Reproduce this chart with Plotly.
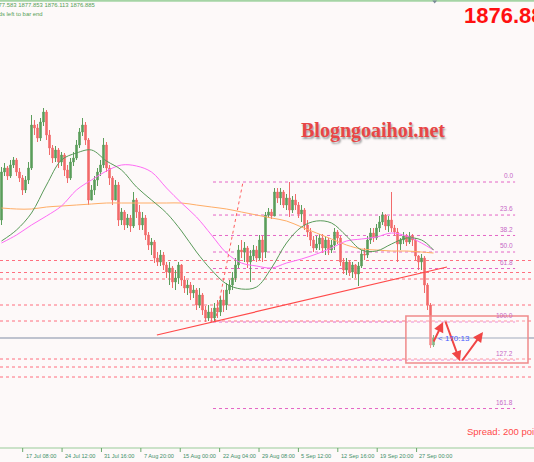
import plotly.graph_objects as go

# ---------------- data (price units) ----------------
first_open = 1995
closes = [2043, 2047, 2039, 2050, 2055, 2043, 2037, 2025, 2035, 2047,
          2090, 2087, 2077, 2093, 2103, 2080, 2067, 2057, 2065, 2053,
          2060, 2045, 2037, 2053, 2057, 2070, 2083, 2090, 2075, 2015,
          2025, 2035, 2043, 2050, 2070, 2047, 2037, 2015, 2030, 1995,
          2003, 1990, 1997, 1989, 2015, 2003, 1990, 1997, 1980, 1970,
          1973, 1957, 1953, 1960, 1950, 1943, 1947, 1933, 1937, 1950,
          1935, 1927, 1930, 1922, 1925, 1910, 1920, 1905, 1897, 1903,
          1897, 1907, 1903, 1915, 1910, 1925, 1930, 1937, 1950, 1965,
          1963, 1967, 1953, 1959, 1965, 1957, 1975, 1963, 2000, 2003,
          1999, 2023, 2017, 2023, 2010, 2017, 2005, 2015, 2010, 2001,
          2005, 1990, 1983, 1975, 1967, 1971, 1977, 1967, 1975, 1965,
          1970, 1983, 1977, 1953, 1945, 1953, 1943, 1950, 1941, 1949,
          1961, 1960, 1975, 1982, 1977, 1987, 1993, 2000, 1989, 1995,
          1987, 1983, 1971, 1975, 1979, 1973, 1979, 1975, 1959, 1953,
          1957, 1930, 1910, 1870, 1877]
highs = [2048, 2052, 2049, 2055, 2058, 2057, 2047, 2040, 2039, 2053,
         2100, 2095, 2091, 2097, 2107, 2105, 2085, 2070, 2069, 2067,
         2063, 2062, 2050, 2057, 2063, 2075, 2087, 2097, 2093, 2077,
         2030, 2039, 2047, 2055, 2077, 2073, 2050, 2039, 2035, 2033,
         2007, 2005, 2001, 2000, 2023, 2017, 2010, 2003, 2000, 1983,
         1977, 1975, 1963, 1965, 1963, 1953, 1953, 1949, 1945, 1953,
         1951, 1939, 1935, 1933, 1930, 1927, 1927, 1922, 1909, 1910,
         1907, 1912, 1915, 1919, 1925, 1932, 1935, 1943, 1957, 1970,
         1975, 1973, 1969, 1965, 1970, 1969, 1980, 1979, 2003, 2007,
         2006, 2027, 2027, 2027, 2025, 2021, 2033, 2019, 2021, 2013,
         2010, 2007, 1995, 1987, 1979, 1979, 1981, 1981, 1979, 1977,
         1975, 1987, 1985, 1979, 1957, 1957, 1955, 1953, 1951, 1953,
         1965, 1967, 1979, 1987, 1987, 1991, 1999, 2003, 2001, 1999,
         2023, 1990, 1987, 1977, 1983, 1981, 1983, 1981, 1977, 1960,
         1961, 1959, 1932, 1912, 1880]
lows = [1990, 2039, 2035, 2037, 2047, 2039, 2033, 2020, 2022, 2031,
        2045, 2080, 2073, 2074, 2089, 2075, 2060, 2052, 2053, 2047,
        2049, 2039, 2032, 2035, 2049, 2055, 2067, 2079, 2070, 2010,
        2015, 2020, 2029, 2039, 2047, 2043, 2030, 2010, 2015, 1989,
        1990, 1985, 1987, 1983, 1987, 1997, 1985, 1985, 1975, 1965,
        1960, 1952, 1949, 1949, 1945, 1937, 1930, 1927, 1925, 1931,
        1929, 1922, 1920, 1915, 1917, 1905, 1907, 1900, 1893, 1894,
        1893, 1894, 1897, 1899, 1903, 1905, 1921, 1925, 1933, 1947,
        1957, 1953, 1947, 1933, 1955, 1953, 1955, 1953, 1957, 1997,
        1996, 1999, 2012, 2010, 2007, 2005, 1998, 2002, 2005, 1997,
        1993, 1985, 1978, 1969, 1963, 1965, 1965, 1962, 1960, 1960,
        1962, 1965, 1971, 1949, 1941, 1940, 1939, 1937, 1937, 1929,
        1947, 1955, 1957, 1971, 1973, 1975, 1983, 1990, 1985, 1983,
        1983, 1979, 1953, 1965, 1971, 1969, 1971, 1969, 1955, 1945,
        1945, 1922, 1905, 1867, 1868]
opens = [first_open] + closes[:-1]
bars = list(range(len(closes)))

# moving averages every 5 bars
ma_bars = list(range(0, 145, 5)) + [144]
ma_green = [1974, 1985, 2002, 2030, 2055, 2062, 2065, 2054, 2045, 2028,
            2015, 2002, 1984, 1963, 1945, 1931, 1926, 1928, 1947, 1972,
            1988, 1994, 1992, 1979, 1965, 1964, 1971, 1977, 1975, 1965]
ma_magenta = [1972, 1980, 1990, 1999, 2009, 2025, 2035, 2044, 2050, 2049,
              2043, 2027, 2012, 1998, 1980, 1962, 1952, 1949, 1947, 1952,
              1956, 1961, 1967, 1974, 1976, 1978, 1982, 1979, 1972, 1965]
ma_orange = [2007, 2006, 2006, 2008, 2009, 2010, 2011, 2012, 2012, 2012,
             2012, 2012, 2012, 2010, 2008, 2006, 2003, 2000, 1997, 1994,
             1988, 1982, 1976, 1970, 1966, 1965, 1964, 1964, 1963, 1962]

hlines = [1954.5, 1942.5, 1936, 1910, 1894, 1856, 1848, 1838]
current_price = 1877
fib_high = 2033
fib_low = 1893
fib_levels = [0.0, 23.6, 38.2, 50.0, 61.8, 100.0, 127.2, 161.8]
fib_labels = ["0.0", "23.6", "38.2", "50.0", "61.8", "100.0", "127.2", "161.8"]
date_labels = ["10 Jul 04:00", "17 Jul 08:00", "24 Jul 12:00", "31 Jul 16:00",
               "7 Aug 20:00", "15 Aug 00:00", "22 Aug 04:00", "29 Aug 08:00",
               "5 Sep 12:00", "12 Sep 16:00", "19 Sep 20:00", "27 Sep 00:00"]
ohlc_text = "1877.583 1877.853 1876.113 1876.885"
big_price = "1876.885"

# ---------------- styling ----------------
BG = "#fdf9f9"
UP = "#5c9e5c"
DN = "#f26b6b"
PRICE_TOP, PRICE_BOT = 2215, 1753
X0, X1 = -0.5, 177.5
SANS = "Liberation Sans, Arial"

fig = go.Figure()
fig.add_trace(go.Candlestick(
    x=bars, open=opens, high=highs, low=lows, close=closes,
    increasing=dict(line=dict(color=UP, width=1), fillcolor=UP),
    decreasing=dict(line=dict(color=DN, width=1), fillcolor=DN),
    whiskerwidth=0, hoverinfo="skip", showlegend=False))

for vals, col in [(ma_orange, "#ffad66"), (ma_magenta, "#ff6cf5"), (ma_green, "#5a9a5a")]:
    fig.add_trace(go.Scatter(x=ma_bars, y=vals, mode="lines",
                             line=dict(color=col, width=1, shape="spline", smoothing=1.0),
                             hoverinfo="skip", showlegend=False))

shapes = []
for p in hlines:
    shapes.append(dict(type="line", xref="paper", yref="y", x0=0, x1=1, y0=p, y1=p,
                       line=dict(color="#ff6f7f", width=1, dash="dot"), layer="below"))
shapes.append(dict(type="line", xref="paper", yref="y", x0=0, x1=1,
                   y0=current_price, y1=current_price,
                   line=dict(color="#aab0c0", width=1.5), layer="below"))
fib_x0, fib_x1 = 70.5, 171.2
fib_prices = [fib_high - (fib_high - fib_low) * l / 100 for l in fib_levels]
for p in fib_prices:
    shapes.append(dict(type="line", xref="x", yref="y", x0=fib_x0, x1=fib_x1, y0=p, y1=p,
                       line=dict(color="#e466c6", width=1, dash="dot"), layer="below"))
shapes.append(dict(type="line", xref="x", yref="y", x0=71.2, x1=80.5, y0=fib_low, y1=fib_high,
                   line=dict(color="#ff6060", width=1, dash="dot")))
shapes.append(dict(type="line", xref="x", yref="y", x0=51.8, x1=148.5, y0=1880, y1=1948,
                   line=dict(color="#ff4a4a", width=1.2)))
shapes.append(dict(type="rect", xref="x", yref="y", x0=134.8, x1=175.5, y0=1852, y1=1899,
                   line=dict(color="#f08a8a", width=1.5), fillcolor="rgba(255,255,255,0.25)"))
shapes.append(dict(type="line", xref="paper", yref="y", x0=0, x1=1, y0=2214.3, y1=2214.3,
                   line=dict(color="#a5d4a5", width=2)))
shapes.append(dict(type="line", xref="paper", yref="y", x0=0, x1=1, y0=1767, y1=1767,
                   line=dict(color="#9acb9a", width=1.2)))
shapes.append(dict(type="path", xref="x", yref="y",
                   path="M 143.6,2214.5 L 145.2,2214.5 L 144.4,2211.5 Z",
                   fillcolor="#7a8a98", line=dict(width=0)))

annotations = []
tick_start, tick_step = -6.07, 13.13
for k, lab in enumerate(date_labels):
    tx = tick_start + k * tick_step
    shapes.append(dict(type="line", xref="x", yref="y", x0=tx, x1=tx, y0=1767, y1=1763,
                       line=dict(color="#6aa86a", width=1)))
    annotations.append(dict(x=tx + 0.3, y=1759.5, xref="x", yref="y", text=lab,
                            showarrow=False, xanchor="left", yanchor="middle",
                            font=dict(size=5.6, color="#3f8f6a", family=SANS)))
for p, lab in zip(fib_prices, fib_labels):
    annotations.append(dict(x=fib_x1, y=p + 0.8, xref="x", yref="y", text=lab, showarrow=False,
                            xanchor="right", yanchor="bottom",
                            font=dict(size=6.5, color="#c766c6", family=SANS)))
arrows = [((143.8, 1872), (147.2, 1893)), ((147.8, 1895), (152.8, 1854)), ((153.2, 1853), (160.5, 1883))]
for (tx, ty), (hx, hy) in arrows:
    annotations.append(dict(x=hx, y=hy, ax=tx, ay=ty, xref="x", yref="y", axref="x", ayref="y",
                            text="", showarrow=True, arrowhead=2, arrowsize=1, arrowwidth=2,
                            arrowcolor="#f04545", standoff=0, startstandoff=0))
annotations.append(dict(x=144.9, y=current_price, xref="x", yref="y", text="< 170:13",
                        showarrow=False, xanchor="left", yanchor="middle",
                        font=dict(size=8, color="#4a5cff", family=SANS)))
annotations.append(dict(x=153.4, y=2200, xref="x", yref="y", text="<b>" + big_price + "</b>",
                        showarrow=False, xanchor="left", yanchor="middle",
                        font=dict(size=22, color="#ff1010", family=SANS)))
annotations.append(dict(x=123.8, y=2085, xref="x", yref="y", text="<b>Blogngoaihoi.net</b>",
                        showarrow=False, xanchor="center", yanchor="middle",
                        font=dict(size=20, color="#e84646", family="Liberation Serif, Times New Roman, serif",
                                  shadow="1px 2px 2px #9a9a9a")))
annotations.append(dict(x=154.5, y=1784, xref="x", yref="y", text="Spread: 200 points",
                        showarrow=False, xanchor="left", yanchor="middle",
                        font=dict(size=9.5, color="#ff4a4a", family=SANS)))
annotations.append(dict(x=31.8, y=2210, xref="x", yref="y", text=ohlc_text, showarrow=False,
                        xanchor="right", yanchor="middle",
                        font=dict(size=5.9, color="#55a055", family=SANS)))
annotations.append(dict(x=14.5, y=2201, xref="x", yref="y", text="Seconds left to bar end",
                        showarrow=False, xanchor="right", yanchor="middle",
                        font=dict(size=5.9, color="#55a055", family=SANS)))

fig.update_layout(
    width=534, height=462, margin=dict(l=0, r=0, t=0, b=0, autoexpand=False),
    paper_bgcolor=BG, plot_bgcolor=BG, showlegend=False,
    xaxis=dict(range=[X0, X1], visible=False, rangeslider=dict(visible=False), fixedrange=True),
    yaxis=dict(range=[PRICE_BOT, PRICE_TOP], visible=False, fixedrange=True),
    shapes=shapes, annotations=annotations)

fig.write_html("out.html", config={"displayModeBar": False},
               post_script="document.body.style.margin='0';document.body.style.overflow='hidden';")
